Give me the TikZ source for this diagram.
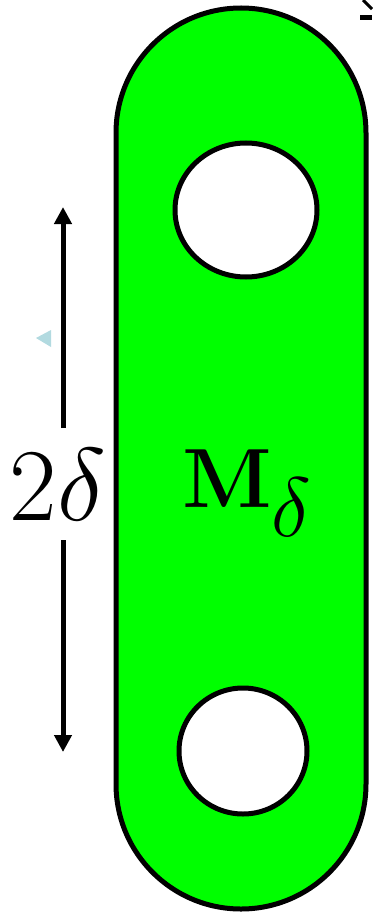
\documentclass[tikz,border=0pt]{standalone}
\usepackage{amsmath,amssymb}
\usetikzlibrary{arrows.meta,shapes.geometric}
\definecolor{plate}{RGB}{0,255,0}
\definecolor{pale}{RGB}{178,218,224}
\begin{document}
\begin{tikzpicture}[x=1pt, y=-1pt, every node/.style={inner sep=0pt, font=\Huge}, hole/.style={draw, line width=5pt, fill=white, ellipse}, dim/.style={line width=5pt, -{Triangle[width=17pt,length=17pt]}}]
	\useasboundingbox (0,0) rectangle (372,912);
	\draw[line width=5pt, fill=plate, rounded corners=125pt] (116,8) rectangle (366,909);
	\node[hole, minimum width=142pt, minimum height=134pt] (holetop) at (246,210) {};
	\node[hole, minimum width=128pt, minimum height=126pt] (holebot) at (243,751) {};
	\node[anchor=base west] (mass) at (182,507) {\scalebox{3.38}{$\mathbf{M}_{\scalebox{1.2}{$\scriptstyle\delta$}}$}};
	\node[anchor=base, inner ysep=20pt] (twod) at (58,520) {\scalebox{4.15}{$2\delta$}};
	\coordinate (up) at (63,207);
	\coordinate (down) at (63,752);
	\draw[dim] (twod.north -| up) -- (up);
	\draw[dim] (twod.south -| down) -- (down);
	\fill[pale] (36,338) -- (51,330) -- (51,347) -- cycle;
	\draw[line width=3pt] (363,0) -- (372,9);
	\draw[line width=5pt] (360,18) -- (372,18);
\end{tikzpicture}
\end{document}
